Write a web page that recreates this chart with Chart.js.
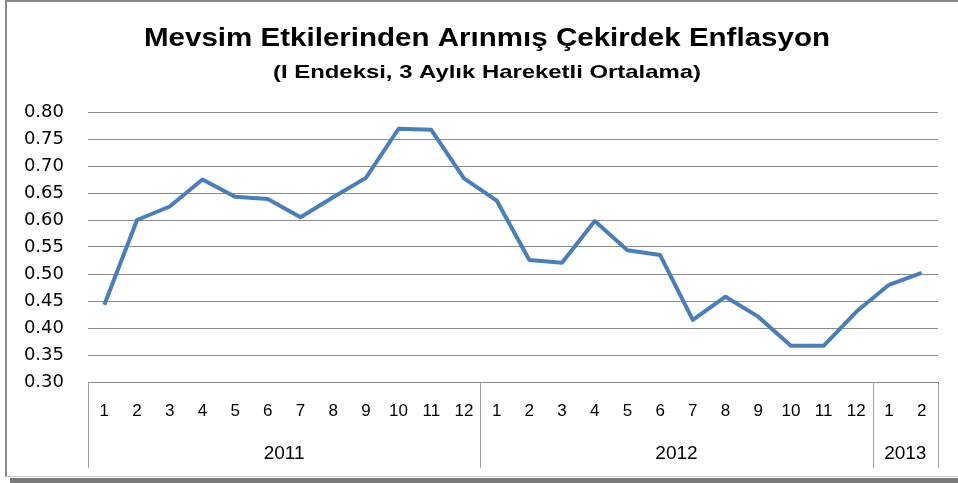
<!DOCTYPE html>
<html>
<head>
<meta charset="utf-8">
<script src="https://cdn.jsdelivr.net/npm/chart.js@4.4.0/dist/chart.umd.min.js"></script>
<style>
    html, body { margin: 0; padding: 0; background: #fff; }
    #wrap { width: 958px; height: 483px; }
</style>
</head>
<body>
<div id="wrap"><canvas id="chart" width="958" height="483"></canvas></div>
<script>
// Chart data
const months = ['1', '2', '3', '4', '5', '6', '7', '8', '9', '10', '11', '12',
                '1', '2', '3', '4', '5', '6', '7', '8', '9', '10', '11', '12',
                '1', '2'];
const years = ['2011', '2012', '2013'];
const yearSizes = [12, 12, 2];
const inflation = [0.443, 0.600, 0.625, 0.675, 0.643, 0.639, 0.605, 0.642, 0.678, 0.769, 0.767, 0.677,
                   0.636, 0.526, 0.521, 0.598, 0.544, 0.535, 0.415, 0.458, 0.421, 0.367, 0.367, 0.430,
                   0.480, 0.502];

const titleText = 'Mevsim Etkilerinden Arınmış Çekirdek Enflasyon';
const subtitleText = '(I Endeksi, 3 Aylık Hareketli Ortalama)';

const labelFont = '"Liberation Sans", sans-serif';

// draw text horizontally stretched to a target width (Calibri-ish look)
function stretchedText(ctx, text, cx, y, width) {
    const w = ctx.measureText(text).width;
    const k = width / w;
    ctx.save();
    ctx.translate(cx, y);
    ctx.scale(k, 1);
    ctx.fillText(text, 0, 0);
    ctx.restore();
}

// Frame, title and the two-level category box
const excelFrame = {
    id: 'excelFrame',
    beforeDraw(chart) {
        const ctx = chart.ctx;
        ctx.save();
        ctx.fillStyle = '#fff';
        ctx.fillRect(0, 0, chart.width, chart.height);
        // frame
        ctx.strokeStyle = '#8a8a8a';
        ctx.lineWidth = 2;
        ctx.beginPath();
        ctx.moveTo(6, 1);
        ctx.lineTo(chart.width, 1);
        ctx.moveTo(6, 0);
        ctx.lineTo(6, 477);
        ctx.stroke();
        ctx.strokeStyle = '#c8c8c8';
        ctx.lineWidth = 1;
        ctx.beginPath();
        ctx.moveTo(6, 476.5);
        ctx.lineTo(chart.width, 476.5);
        ctx.stroke();
        ctx.fillStyle = '#7a7a7a';
        ctx.fillRect(10, 478, chart.width - 10, 5);

        // titles
        ctx.fillStyle = '#000';
        ctx.textAlign = 'center';
        ctx.textBaseline = 'alphabetic';
        ctx.font = 'bold 26px "Liberation Sans", sans-serif';
        stretchedText(ctx, titleText, 487, 46, 686);
        ctx.font = 'bold 19px "Liberation Sans", sans-serif';
        stretchedText(ctx, subtitleText, 487, 78, 428);
        ctx.restore();
    },
    afterDraw(chart) {
        const ctx = chart.ctx;
        const x = chart.scales.x;
        const area = chart.chartArea;
        const top = area.bottom;
        const bottom = 468;
        ctx.save();
        ctx.strokeStyle = '#a0a0a0';
        ctx.lineWidth = 1;
        ctx.font = '19px ' + labelFont;
        ctx.fillStyle = '#000';
        ctx.textAlign = 'center';
        ctx.textBaseline = 'middle';
        let start = 0;
        let left = area.left;
        ctx.beginPath();
        ctx.moveTo(Math.round(left) + 0.5, top);
        ctx.lineTo(Math.round(left) + 0.5, bottom);
        yearSizes.forEach((n, i) => {
            const end = start + n - 1;
            const right = end < months.length - 1
                ? (x.getPixelForValue(end) + x.getPixelForValue(end + 1)) / 2
                : area.right;
            ctx.moveTo(Math.round(right) + 0.5, top);
            ctx.lineTo(Math.round(right) + 0.5, bottom);
            ctx.fillText(years[i], (left + right) / 2, 454);
            left = right;
            start += n;
        });
        ctx.stroke();
        ctx.restore();
    }
};

const ctx = document.getElementById('chart').getContext('2d');
const chart = new Chart(ctx, {
    type: 'line',
    data: {
        labels: months,
        datasets: [{
            data: inflation,
            borderColor: '#4a7ebb',
            borderWidth: 4,
            borderJoinStyle: 'round',
            pointRadius: 0,
            tension: 0,
            fill: false
        }]
    },
    options: {
        responsive: false,
        animation: false,
        layout: { padding: { top: 112, right: 20, bottom: 0, left: 0 } },
        plugins: {
            legend: { display: false },
            tooltip: { enabled: false }
        },
        scales: {
            x: {
                offset: true,
                grid: { display: false, drawTicks: false },
                border: { display: false },
                ticks: {
                    autoSkip: false,
                    maxRotation: 0,
                    padding: 19,
                    color: '#000',
                    font: { family: labelFont, size: 17 }
                },
                afterFit(scale) { scale.height = 101; }
            },
            y: {
                min: 0.30,
                max: 0.80,
                grid: { color: '#8c8c8c', lineWidth: 1, drawTicks: false },
                border: { display: false },
                ticks: {
                    stepSize: 0.05,
                    padding: 24,
                    color: '#000',
                    font: { family: '"DejaVu Sans", sans-serif', size: 18 },
                    callback: v => Number(v).toFixed(2)
                },
                afterFit(scale) { scale.width = 88; }
            }
        }
    },
    plugins: [excelFrame]
});
</script>
</body>
</html>
